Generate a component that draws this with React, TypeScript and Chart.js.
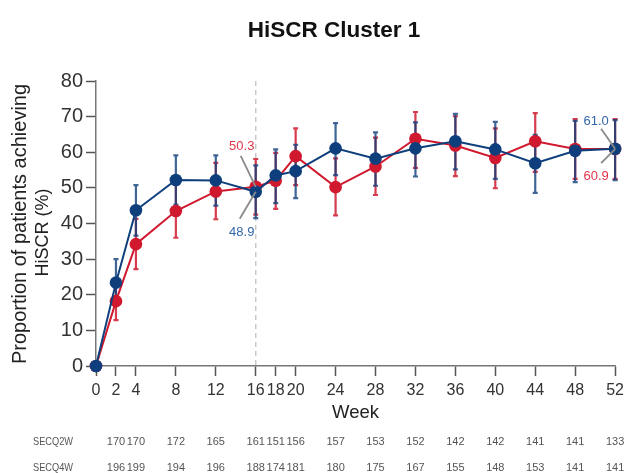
import React, { useEffect, useRef } from "react";
import { Chart, registerables } from "chart.js";

Chart.register(...registerables);

// ---- Data ----
const weeks = [0, 2, 4, 8, 12, 16, 18, 20, 24, 28, 32, 36, 40, 44, 48, 52];

const blueValues = [0, 23.4, 43.7, 52.2, 52.1, 48.9, 53.5, 54.7, 61.1, 58.2, 61.1, 63.1, 60.8, 56.9, 60.4, 61.0];
const blueLow = [0, 17.0, 36.6, 45.3, 45.0, 41.5, 45.7, 47.1, 53.6, 50.6, 53.2, 55.2, 52.5, 48.6, 51.6, 52.2];
const blueHigh = [0, 30.0, 50.8, 59.1, 59.1, 56.3, 60.8, 62.1, 68.2, 65.6, 68.4, 70.8, 68.5, 64.9, 68.8, 69.0];

const redValues = [0, 18.2, 34.2, 43.5, 49.0, 50.3, 52.0, 58.9, 50.2, 56.0, 63.8, 61.9, 58.4, 63.1, 60.9, 60.9];
const redLow = [0, 12.9, 27.2, 36.0, 41.2, 42.5, 44.1, 50.8, 42.3, 48.0, 55.6, 53.3, 49.9, 54.5, 52.5, 52.5];
const redHigh = [0, 24.0, 41.3, 51.0, 57.0, 58.1, 59.8, 66.7, 58.3, 64.1, 71.3, 70.1, 66.7, 71.0, 69.3, 69.3];

const tableWeeks = [2, 4, 8, 12, 16, 18, 20, 24, 28, 32, 36, 40, 44, 48, 52];
const secq2w = [170, 170, 172, 165, 161, 151, 156, 157, 153, 152, 142, 142, 141, 141, 133];
const secq4w = [196, 199, 194, 196, 188, 174, 181, 180, 175, 167, 155, 148, 153, 141, 141];

const yTicks = [0, 10, 20, 30, 40, 50, 60, 70, 80];

const FONT = "'Liberation Sans', Arial, Helvetica, sans-serif";
const BLUE = "#0e3f7c";
const RED = "#d0192f";

const overlayPlugin = {
  id: "overlay",
  beforeDatasetsDraw(chart: any) {
    const { ctx, chartArea, scales } = chart;
    const x = scales.x;
    const y = scales.y;
    ctx.save();
    // dashed vertical line at week 16
    ctx.strokeStyle = "#c8c8c8";
    ctx.lineWidth = 1.5;
    ctx.setLineDash([5, 4]);
    const xv = x.getPixelForValue(16);
    ctx.beginPath();
    ctx.moveTo(xv, chartArea.top);
    ctx.lineTo(xv, chartArea.bottom);
    ctx.stroke();
    ctx.setLineDash([]);

    const drawBars = (lo: number[], hi: number[], color: string) => {
      ctx.strokeStyle = color;
      ctx.lineWidth = 2.2;
      for (let i = 0; i < weeks.length; i++) {
        if (hi[i] === lo[i]) continue;
        const px = x.getPixelForValue(weeks[i]);
        const pLo = y.getPixelForValue(lo[i]);
        const pHi = y.getPixelForValue(hi[i]);
        ctx.beginPath();
        ctx.moveTo(px, pLo);
        ctx.lineTo(px, pHi);
        ctx.moveTo(px - 2.5, pLo);
        ctx.lineTo(px + 2.5, pLo);
        ctx.moveTo(px - 2.5, pHi);
        ctx.lineTo(px + 2.5, pHi);
        ctx.stroke();
      }
    };
    drawBars(redLow, redHigh, "rgba(208,25,47,0.85)");
    drawBars(blueLow, blueHigh, "rgba(14,63,124,0.8)");
    ctx.restore();
  },
  afterDraw(chart: any) {
    const { ctx, chartArea, scales } = chart;
    const x = scales.x;
    const y = scales.y;
    ctx.save();
    // title
    ctx.fillStyle = "#111";
    ctx.font = `bold 22.5px ${FONT}`;
    ctx.textAlign = "center";
    ctx.textBaseline = "middle";
    ctx.fillText("HiSCR Cluster 1", 334, 31);

    // y title
    ctx.save();
    ctx.translate(20, 224);
    ctx.rotate(-Math.PI / 2);
    ctx.fillStyle = "#222";
    ctx.font = `20px ${FONT}`;
    ctx.fillText("Proportion of patients achieving", 0, 0);
    ctx.font = `18px ${FONT}`;
    ctx.fillText("HiSCR (%)", -8.5, 23);
    ctx.restore();

    // x title
    ctx.fillStyle = "#222";
    ctx.font = `18.5px ${FONT}`;
    ctx.fillText("Week", (chartArea.left + chartArea.right) / 2, 413);

    // table
    ctx.fillStyle = "#555";
    ctx.font = `11px ${FONT}`;
    ctx.fillText("SECQ2W", 53, 442, 40);
    ctx.fillText("SECQ4W", 53, 468, 40);
    for (let i = 0; i < tableWeeks.length; i++) {
      const px = x.getPixelForValue(tableWeeks[i]);
      ctx.fillText(String(secq2w[i]), px, 442);
      ctx.fillText(String(secq4w[i]), px, 468);
    }

    // annotations
    const i16 = weeks.indexOf(16);
    const i52 = weeks.indexOf(52);
    const px16 = x.getPixelForValue(16);
    const px52 = x.getPixelForValue(52);
    ctx.strokeStyle = "#8a8a8a";
    ctx.lineWidth = 1.8;
    const leader = (x1: number, y1: number, x2: number, y2: number) => {
      ctx.beginPath();
      ctx.moveTo(x1, y1);
      ctx.lineTo(x2, y2);
      ctx.stroke();
    };
    const r16 = y.getPixelForValue(redValues[i16]);
    const b16 = y.getPixelForValue(blueValues[i16]);
    const r52 = y.getPixelForValue(redValues[i52]);
    const b52 = y.getPixelForValue(blueValues[i52]);
    leader(px16 - 15, r16 - 31, px16, r16);
    leader(px16 - 16, b16 + 27, px16, b16);
    leader(px52 - 14, b52 - 20, px52, b52);
    leader(px52 - 14, r52 + 14, px52, r52);

    ctx.font = `13px ${FONT}`;
    ctx.fillStyle = "#e0344a";
    ctx.fillText(redValues[i16].toFixed(1), px16 - 14, r16 - 40);
    ctx.fillText(redValues[i52].toFixed(1), px52 - 19, r52 + 27);
    ctx.fillStyle = "#3468a8";
    ctx.fillText(blueValues[i16].toFixed(1), px16 - 14, b16 + 41);
    ctx.fillText(blueValues[i52].toFixed(1), px52 - 19, b52 - 27);
    ctx.restore();
  },
};

export default function App() {
  const ref = useRef<HTMLCanvasElement | null>(null);
  useEffect(() => {
    if (!ref.current) return;
    const chart = new Chart(ref.current, {
      type: "line",
      data: {
        labels: weeks,
        datasets: [
          {
            label: "Red series",
            data: weeks.map((w, i) => ({ x: w, y: redValues[i] })),
            borderColor: RED,
            backgroundColor: RED,
            borderWidth: 2,
            pointRadius: 6.3,
            pointBorderWidth: 0,
            pointBackgroundColor: RED,
            clip: false,
            order: 2,
          },
          {
            label: "Blue series",
            data: weeks.map((w, i) => ({ x: w, y: blueValues[i] })),
            borderColor: BLUE,
            backgroundColor: BLUE,
            borderWidth: 2,
            pointRadius: 6.3,
            pointBorderWidth: 0,
            pointBackgroundColor: BLUE,
            clip: false,
            order: 1,
          },
        ],
      },
      options: {
        responsive: false,
        animation: false,
        layout: { padding: { top: 81, right: 13, bottom: 0, left: 0 }, autoPadding: false },
        plugins: { legend: { display: false }, title: { display: false }, tooltip: { enabled: false } },
        scales: {
          x: {
            type: "linear",
            min: 0,
            max: 52,
            afterBuildTicks: (s: any) => {
              s.ticks = weeks.map((v) => ({ value: v }));
            },
            afterFit: (s: any) => {
              s.height = 107;
            },
            grid: { drawOnChartArea: false, tickLength: 10, tickColor: "#555", tickWidth: 1.5 },
            border: { color: "#777", width: 1.5 },
            ticks: {
              autoSkip: false,
              maxRotation: 0,
              padding: 5,
              color: "#333",
              font: { family: FONT, size: 16 },
              callback: (v: any) => String(v),
            },
          },
          y: {
            min: 0,
            max: 80,
            afterBuildTicks: (s: any) => {
              s.ticks = yTicks.map((v) => ({ value: v }));
            },
            afterFit: (s: any) => {
              s.width = 96;
            },
            grid: { drawOnChartArea: false, tickLength: 10, tickColor: "#555", tickWidth: 1.5 },
            border: { color: "#777", width: 1.5 },
            ticks: {
              padding: 3,
              color: "#333",
              font: { family: FONT, size: 20 },
            },
          },
        },
      },
      plugins: [overlayPlugin],
    } as any);
    return () => chart.destroy();
  }, []);
  return (
    <div style={{ position: "absolute", left: 0, top: 0 }}>
      <canvas ref={ref} width={629} height={473} style={{ display: "block" }} />
    </div>
  );
}
